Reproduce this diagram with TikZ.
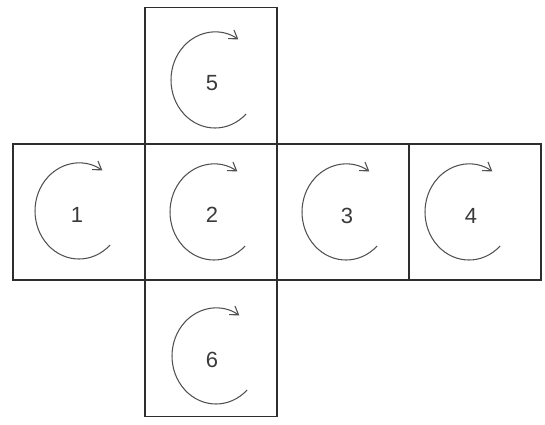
\documentclass[tikz,border=0pt]{standalone}
\usepackage{fontspec}
\setmainfont{Liberation Sans}
\usepackage{xcolor}
\usepackage{tikz}
\usetikzlibrary{arrows.meta,calc}
\definecolor{edge}{HTML}{2E2E2E}
\definecolor{arcgray}{HTML}{505050}
\definecolor{digit}{HTML}{3A3A3A}

\begin{document}
\begin{tikzpicture}[x=0.02cm,y=-0.02cm,
                    face/.style={draw=edge,line width=0.8pt,minimum width=2.64cm,minimum height=2.72cm,inner sep=0pt},
                    num/.style={font=\fontsize{12.5}{14}\selectfont,color=digit},
                    spin/.style={draw=arcgray,line width=0.6pt,-{Straight Barb[length=4.5pt,width=6pt]}}]
  \useasboundingbox (0,0) rectangle (545,424);
  % the six faces
  \foreach \n/\x/\y in {5/211/75.5, 1/79/212, 2/211/212, 3/343/212, 4/475/212, 6/211/348.5}
    \node[face] (f\n) at (\x,\y) {};
  % turning arrows and numbers
  \foreach \n/\x/\y/\a/\b in {5/215/80/212/83, 1/79/211/77/215, 2/214/212/212/215,
                              3/346/212/347/216, 4/469/212/471/216, 6/216/356/212/360} {
    \draw[spin] ($(\x,\y)+(-45:0.88cm and 0.96cm)$) arc[start angle=-45,end angle=-302,x radius=0.88cm,y radius=0.96cm];
    \node[num] (d\n) at (\a,\b) {\n};
  }
\end{tikzpicture}
\end{document}
